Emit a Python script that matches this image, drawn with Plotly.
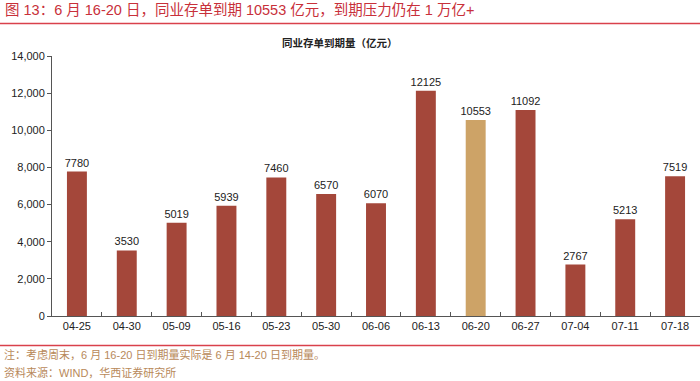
import plotly.graph_objects as go

categories = ["04-25", "04-30", "05-09", "05-16", "05-23", "05-30", "06-06",
              "06-13", "06-20", "06-27", "07-04", "07-11", "07-18"]
values = [7780, 3530, 5019, 5939, 7460, 6570, 6070, 12125, 10553, 11092, 2767, 5213, 7519]
highlight = "06-20"

RED = "#A4473A"
GOLD = "#CDA367"
colors = [GOLD if c == highlight else RED for c in categories]

FONT = "Liberation Sans, Arial, Noto Sans CJK SC, sans-serif"
CJK = "Noto Sans CJK SC, sans-serif"
MIX = "Liberation Sans, Noto Sans CJK SC, sans-serif"

fig = go.Figure(go.Bar(
    x=categories, y=values, marker=dict(color=colors, line=dict(width=0)),
    text=[str(v) for v in values], textposition="outside", constraintext="none",
    textfont=dict(size=11, color="#222222", family=FONT),
    cliponaxis=False,
))

H = 260.0
def py(p):
    return (316 - p) / H

def px(p):
    return (p - 52) / 648.0

fig.update_layout(
    width=700, height=381,
    margin=dict(l=52, r=0, t=56, b=65),
    paper_bgcolor="white", plot_bgcolor="white",
    bargap=0.6, showlegend=False,
    font=dict(family=FONT, size=11, color="#222222"),
    xaxis=dict(type="category", showline=True, linecolor="#555555", linewidth=1,
               ticks="inside", tickson="boundaries", ticklen=4, tickcolor="#555555",
               tickfont=dict(size=11, color="#222222"), showgrid=False),
    yaxis=dict(range=[0, 14000], dtick=2000, tickformat=",", showline=True,
               linecolor="#555555", linewidth=1, ticks="outside", ticklen=4,
               tickcolor="#555555", showgrid=False, zeroline=False,
               tickfont=dict(size=11, color="#222222")),
    shapes=[
        dict(type="line", xref="paper", yref="paper", x0=px(0), x1=1, y0=py(23.5), y1=py(23.5),
             line=dict(color="#D9414B", width=1.5), layer="above"),
        dict(type="line", xref="paper", yref="paper", x0=px(0), x1=1, y0=py(345.5), y1=py(345.5),
             line=dict(color="#D9414B", width=1.5), layer="above"),
    ],
    annotations=[
        dict(text="图 13：6 月 16-20 日，同业存单到期 10553 亿元，到期压力仍在 1 万亿+",
             xref="paper", yref="paper", x=px(3), y=py(10), xanchor="left", yanchor="middle",
             showarrow=False, font=dict(family=MIX, size=14.5, color="#C8303A")),
        dict(text="<b>同业存单到期量（亿元）</b>",
             xref="paper", yref="paper", x=px(340), y=py(43), xanchor="center", yanchor="middle",
             showarrow=False, font=dict(family=CJK, size=10.5, color="#222222")),
        dict(text="注：考虑周末，6 月 16-20 日到期量实际是 6 月 14-20 日到期量。",
             xref="paper", yref="paper", x=px(2), y=py(354), xanchor="left", yanchor="middle",
             showarrow=False, font=dict(family=MIX, size=11, color="#B8895A")),
        dict(text="资料来源：WIND，华西证券研究所",
             xref="paper", yref="paper", x=px(2), y=py(372), xanchor="left", yanchor="middle",
             showarrow=False, font=dict(family=MIX, size=11, color="#B8895A")),
    ],
)

fig.write_html("out.html", config={"displayModeBar": False},
               post_script="document.body.style.margin='0';document.body.style.overflow='hidden';")
